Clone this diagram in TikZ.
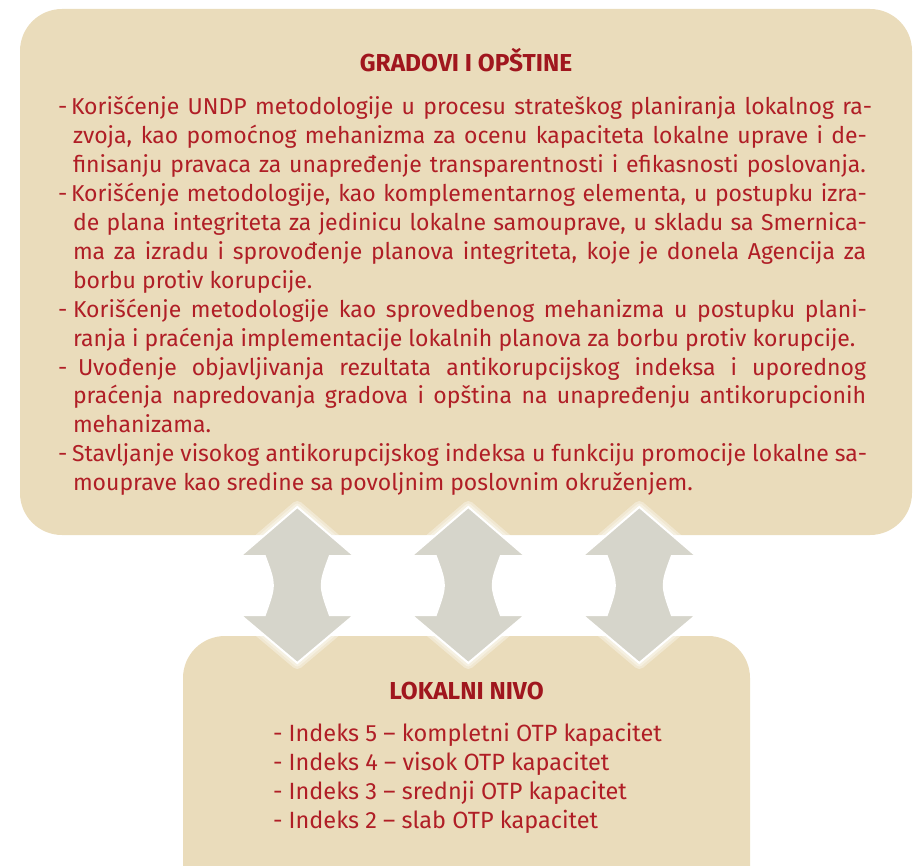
\documentclass[tikz,border=0pt]{standalone}
\usepackage{fontspec}
\setmainfont{Fira Sans}
\usetikzlibrary{calc}
\definecolor{boxfill}{RGB}{234,220,187}
\definecolor{txtred}{RGB}{176,30,38}
\definecolor{headred}{RGB}{160,22,30}
\definecolor{arrfill}{RGB}{214,213,203}
\tikzset{
  panel/.style={fill=boxfill, draw=none, rounded corners=42pt},
  txt/.style={inner sep=0pt, outer sep=0pt, anchor=base west, text=txtred, font=\fontsize{23}{27}\selectfont},
  btxt/.style={txt, font=\fontsize{23.5}{28}\selectfont},
  head/.style={inner sep=0pt, anchor=base, text=headred, font=\fontsize{24.5}{28}\selectfont\bfseries},
  arrshape/.style={fill=arrfill, draw=white, line width=2pt, line join=miter},
  glow/.style={draw=white, line width=#1, opacity=0.35, line join=round},
}
\newcommand{\dblarrow}[2]{%
  \path[#2] (#1,507) -- (#1+57,556) -- (#1+32.5,556)
     .. controls (#1+21.8,585) .. (#1+32.5,615) -- (#1+57,615) -- (#1,663)
     -- (#1-57,615) -- (#1-32.5,615) .. controls (#1-21.8,585) .. (#1-32.5,556)
     -- (#1-57,556) -- cycle;}
\begin{document}
\begin{tikzpicture}[x=1pt,y=-1pt]
\useasboundingbox (0,0) rectangle (913,866);
\begin{scope}
\clip (0,0) rectangle (913,866);
\fill[panel] (20,9) rectangle (912,535);
\fill[panel] (183,636) rectangle (750,910);
\end{scope}
% arrows
\foreach \c in {297.3,468.3,639.3}{
  \dblarrow{\c}{glow=12pt}
  \dblarrow{\c}{glow=7pt}
  \dblarrow{\c}{arrshape}
}
% top heading
\node[head] (h1) at (466,72) {GRADOVI I OPŠTINE};
% dashes
\node[txt] (d1) at (58,115) {-};
\node[txt] (d2) at (58,201.7) {-};
\node[txt] (d3) at (58,317.3) {-};
\node[txt] (d4) at (58,375.1) {-};
\node[txt] (d5) at (58,461.8) {-};
% lines
\node[txt] (l1) at (71,115) {\makebox[801pt][s]{Korišćenje UNDP metodologije u procesu strateškog planiranja lokalnog ra-}};
\node[txt] (l2) at (73,143.9) {\makebox[794pt][s]{zvoja, kao pomoćnog mehanizma za ocenu kapaciteta lokalne uprave i de-}};
\node[txt] (l3) at (73,172.8) {\makebox[793pt][s]{finisanju pravaca za unapređenje transparentnosti i efikasnosti poslovanja.}};
\node[txt] (l4) at (71,201.7) {\makebox[796pt][s]{Korišćenje metodologije, kao komplementarnog elementa, u postupku izra-}};
\node[txt] (l5) at (73,230.6) {\makebox[794pt][s]{de plana integriteta za jedinicu lokalne samouprave, u skladu sa Smernica-}};
\node[txt] (l6) at (73,259.5) {\makebox[793pt][s]{ma za izradu i sprovođenje planova integriteta, koje je donela Agencija za}};
\node[txt] (l7) at (73,288.4) {borbu protiv korupcije.};
\node[txt] (l8) at (73,317.3) {\makebox[794pt][s]{Korišćenje metodologije kao sprovedbenog mehanizma u postupku plani-}};
\node[txt] (l9) at (73,346.2) {ranja i praćenja implementacije lokalnih planova za borbu protiv korupcije.};
\node[txt] (l10) at (78,375.1) {\makebox[788pt][s]{Uvođenje objavljivanja rezultata antikorupcijskog indeksa i uporednog}};
\node[txt] (l11) at (73,404) {\makebox[793pt][s]{praćenja napredovanja gradova i opština na unapređenju antikorupcionih}};
\node[txt] (l12) at (73,432.9) {mehanizama.};
\node[txt] (l13) at (72,461.8) {\makebox[795pt][s]{Stavljanje visokog antikorupcijskog indeksa u funkciju promocije lokalne sa-}};
\node[txt] (l14) at (73,490.7) {mouprave kao sredine sa povoljnim poslovnim okruženjem.};
% bottom box
\node[head] (h2) at (466.5,699) {LOKALNI NIVO};
\node[btxt] (b1) at (273,741) {- Indeks 5 – kompletni OTP kapacitet};
\node[btxt] (b2) at (273,770) {- Indeks 4 – visok OTP kapacitet};
\node[btxt] (b3) at (273,799) {- Indeks 3 – srednji OTP kapacitet};
\node[btxt] (b4) at (273,828) {- Indeks 2 – slab OTP kapacitet};
\end{tikzpicture}
\end{document}
